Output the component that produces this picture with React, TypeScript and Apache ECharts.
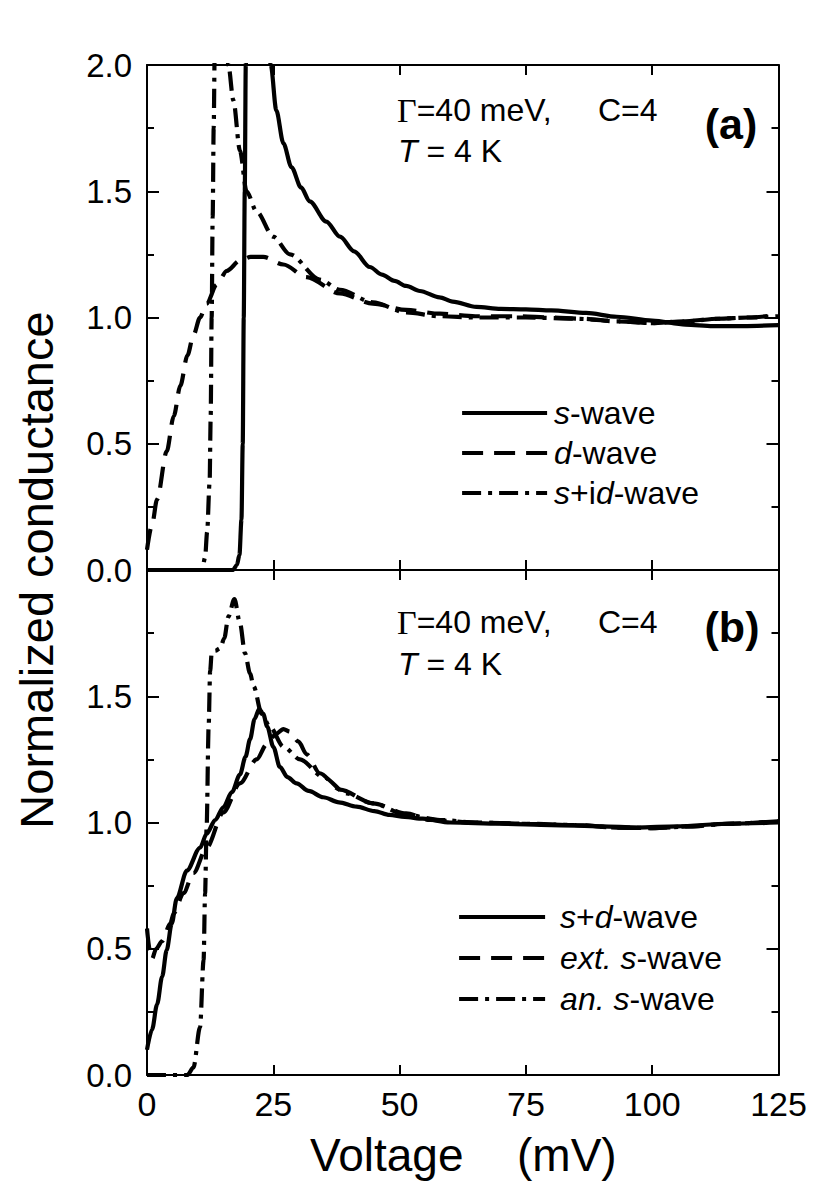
import React, { useEffect, useRef } from "react";
import * as echarts from "echarts";

const FONT = "'Liberation Sans', Arial, Helvetica, sans-serif";
const SERIF = "'Liberation Serif', 'Times New Roman', serif";

// ---------- panel (a) ----------
const sWaveV = [0, 17.0, 17.8, 18.3, 18.7, 18.95, 19.15, 19.35, 19.55, 20.5, 22.5, 24.5, 25.6, 27, 28.6, 30.5, 32.2, 35.5, 38.2, 41, 44.1, 46.5, 49, 51.3, 54, 57.9, 60.5, 65.2, 70, 75, 80, 86.9, 93, 100, 106.6, 112, 118, 125];
const sWaveG = [0, 0, 0.02, 0.06, 0.2, 0.5, 1.0, 1.5, 2.0, 3.5, 3.0, 2.0, 1.82, 1.69, 1.595, 1.515, 1.46, 1.38, 1.32, 1.262, 1.20, 1.17, 1.145, 1.125, 1.105, 1.08, 1.063, 1.042, 1.034, 1.032, 1.028, 1.018, 1.003, 0.988, 0.972, 0.966, 0.966, 0.97];

const dWaveV = [0, 1, 2, 3.9, 5.3, 6.6, 8, 9.2, 10.5, 11.8, 13.8, 15.8, 18.4, 20.5, 23, 27, 31.6, 38.2, 44.7, 51.3, 58, 65, 73.7, 80, 86, 93.5, 100, 106, 113, 119, 125];
const dWaveG = [0.08, 0.18, 0.28, 0.47, 0.61, 0.73, 0.85, 0.93, 1.0, 1.055, 1.13, 1.185, 1.225, 1.24, 1.24, 1.21, 1.16, 1.095, 1.055, 1.03, 1.015, 1.005, 1.005, 1.0, 0.995, 0.985, 0.978, 0.985, 0.995, 1.0, 1.01];

const sidWaveV = [0, 10.9, 11.5, 11.9, 12.4, 12.6, 12.8, 13.0, 13.2, 13.4, 14.5, 16.1, 17.1, 18.4, 19.7, 21.7, 25, 28.3, 34.2, 38.2, 44.7, 51.3, 58, 65, 75, 85, 93, 100, 107, 113, 119, 125];
const sidWaveG = [0, 0, 0.05, 0.15, 0.35, 0.6, 1.0, 1.4, 1.75, 2.05, 3.0, 2.0, 1.86, 1.66, 1.50, 1.42, 1.32, 1.25, 1.15, 1.11, 1.06, 1.02, 1.005, 1.0, 1.0, 0.995, 0.985, 0.978, 0.985, 0.995, 1.0, 1.005];

// ---------- panel (b) ----------
const sdWaveV = [0, 1, 2, 3, 3.9, 4.9, 5.9, 7.9, 10.5, 11.8, 13.5, 15.1, 16.8, 18.4, 19.5, 20.4, 21.3, 22.2, 23.0, 23.8, 25, 26.3, 27.8, 29.6, 32, 34.9, 38, 41.5, 45, 48, 51, 54.6, 60, 70, 80, 90, 97, 105, 115, 125];
const sdWaveG = [0.1, 0.18, 0.28, 0.39, 0.495, 0.60, 0.70, 0.81, 0.90, 0.955, 1.01, 1.06, 1.12, 1.19, 1.26, 1.33, 1.41, 1.45, 1.43, 1.38, 1.30, 1.22, 1.18, 1.155, 1.125, 1.10, 1.08, 1.063, 1.045, 1.03, 1.022, 1.015, 1.0, 0.995, 0.99, 0.985, 0.98, 0.985, 0.995, 1.0];

const extWaveV = [0, 0.5, 1.0, 1.8, 3.0, 4.6, 5.3, 7.2, 9.2, 11.8, 15.1, 18.4, 21.7, 23.7, 25.5, 27, 28.3, 30, 31.6, 34.2, 38.2, 44.7, 51.3, 56, 65, 75, 85, 93, 100, 108, 115, 125];
const extWaveG = [0.58, 0.5, 0.46, 0.5, 0.53, 0.6, 0.64, 0.72, 0.80, 0.90, 1.04, 1.155, 1.25, 1.31, 1.35, 1.37, 1.36, 1.32, 1.27, 1.195, 1.13, 1.076, 1.036, 1.01, 1.0, 0.995, 0.99, 0.98, 0.978, 0.985, 0.995, 1.005];

const anWaveV = [0, 8, 9.2, 10.5, 11.2, 11.5, 11.8, 12.2, 12.5, 12.8, 13.5, 14.5, 15.3, 16.1, 17.3, 18.4, 19.4, 20.4, 21.1, 22.7, 24.3, 27, 30.3, 34.9, 39.5, 44.7, 51.3, 58, 65, 75, 85, 93, 100, 108, 115, 125];
const anWaveG = [0, 0, 0.03, 0.19, 0.455, 0.72, 0.98, 1.38, 1.60, 1.67, 1.68, 1.69, 1.73, 1.815, 1.885, 1.79, 1.67, 1.59, 1.54, 1.43, 1.38, 1.30, 1.25, 1.18, 1.115, 1.076, 1.03, 1.01, 1.0, 0.995, 0.99, 0.98, 0.978, 0.985, 0.995, 1.005];

const legendA = ["s-wave", "d-wave", "s+id-wave"];
const legendB = ["s+d-wave", "ext. s-wave", "an. s-wave"];
const legendRich: Record<string, string> = {
  "s-wave": "{p|}{i|s}{n|-wave}",
  "d-wave": "{p|}{i|d}{n|-wave}",
  "s+id-wave": "{p|}{i|s}{n|+i}{i|d}{n|-wave}",
  "s+d-wave": "{q|}{i|s}{n|+}{i|d}{n|-wave}",
  "ext. s-wave": "{q|}{i|ext. s}{n|-wave}",
  "an. s-wave": "{q|}{i|an. s}{n|-wave}",
};

const zip = (xs: number[], ys: number[]) => xs.map((x, i) => [x, ys[i]]);

const SOLID: any = "solid";
const DASH = [21, 11];
const DASHDOT = [19, 7, 4, 7];
const LW = 4.2;

function xAxisCfg(gridIndex: number, position: string, showLabels: boolean) {
  return {
    type: "value",
    gridIndex,
    position,
    min: 0,
    max: 125,
    interval: 25,
    axisLine: { show: true, onZero: false, lineStyle: { color: "#000", width: 2 } },
    axisTick: { show: true, inside: true, length: 10, lineStyle: { color: "#000", width: 2 } },
    minorTick: { show: false },
    axisLabel: { show: showLabels, color: "#000", fontSize: 34, fontFamily: FONT, margin: 12 },
    splitLine: { show: false },
    minorSplitLine: { show: false },
  };
}

function yAxisCfg(gridIndex: number, position: string, showLabels: boolean, hideTop: boolean) {
  return {
    type: "value",
    gridIndex,
    position,
    min: 0,
    max: 2,
    interval: 0.5,
    axisLine: { show: true, onZero: false, lineStyle: { color: "#000", width: 2 } },
    axisTick: { show: true, inside: true, length: 12, lineStyle: { color: "#000", width: 2 } },
    minorTick: { show: true, splitNumber: 2, length: 7, lineStyle: { color: "#000", width: 2 } },
    axisLabel: {
      show: showLabels,
      color: "#000",
      fontSize: 33,
      fontFamily: FONT,
      margin: 15,
      formatter: (v: number) => (hideTop && v === 2 ? "" : v.toFixed(1)),
    },
    splitLine: { show: false },
    minorSplitLine: { show: false },
  };
}

function lineSeries(name: string, xs: number[], ys: number[], axis: number, type: any) {
  return {
    name,
    type: "line",
    xAxisIndex: axis,
    yAxisIndex: axis,
    data: zip(xs, ys),
    symbol: "none",
    showSymbol: false,
    smooth: 0.3,
    smoothMonotone: "x",
    clip: true,
    silent: true,
    lineStyle: { color: "#000", width: LW, type, cap: "butt" },
    itemStyle: { color: "#000" },
  };
}

const richStyles = {
  i: { fontStyle: "italic", fontSize: 32, fontFamily: FONT, color: "#000" },
  n: { fontSize: 32, fontFamily: FONT, color: "#000" },
  p: { width: 2 },
  q: { width: 10 },
};

function txt(x: number, y: number, text: string, extra: any = {}, rich: any = undefined) {
  return {
    type: "text",
    x,
    y,
    silent: true,
    style: {
      text,
      fill: "#000",
      fontSize: 32,
      fontFamily: FONT,
      textAlign: "left",
      align: "left",
      textVerticalAlign: "middle",
      verticalAlign: "middle",
      rich,
      ...extra,
    },
  };
}

const gRich = { g: { fontFamily: SERIF, fontSize: 34, fill: "#000" } };
const tRich = { t: { fontFamily: FONT, fontStyle: "italic", fontSize: 32, fill: "#000" } };

const legendBase = {
  orient: "vertical",
  itemHeight: 20,
  padding: 0,
  selectedMode: false,
  formatter: (name: string) => legendRich[name],
  itemStyle: { color: "rgba(0,0,0,0)", opacity: 0, borderWidth: 0 },
  lineStyle: { width: LW, color: "#000" },
  textStyle: { fontSize: 32, fontFamily: FONT, color: "#000", rich: richStyles },
};

export default function App() {
  const ref = useRef<HTMLDivElement>(null);
  useEffect(() => {
    if (!ref.current) return;
    const chart = echarts.init(ref.current, null, { renderer: "svg" });
    const option: any = {
      animation: false,
      backgroundColor: "#fff",
      grid: [
        { left: 147, top: 65, width: 631.5, height: 505, containLabel: false, outerBoundsMode: "none" },
        { left: 147, top: 570, width: 631.5, height: 505, containLabel: false, outerBoundsMode: "none" },
      ],
      xAxis: [
        xAxisCfg(0, "bottom", false),
        xAxisCfg(0, "top", false),
        xAxisCfg(1, "bottom", true),
        xAxisCfg(1, "top", false),
      ],
      yAxis: [
        yAxisCfg(0, "left", true, false),
        yAxisCfg(0, "right", false, false),
        yAxisCfg(1, "left", true, true),
        yAxisCfg(1, "right", false, false),
      ],
      legend: [
        { ...legendBase, data: legendA, left: 460, top: 397, itemWidth: 85, itemGap: 8 },
        { ...legendBase, data: legendB, left: 457, top: 901, itemWidth: 86, itemGap: 9 },
      ],
      graphic: [
        txt(397, 110, "{g|Γ}=40 meV,", {}, gRich),
        txt(598, 110, "C=4"),
        txt(398, 151, "{t|T} = 4 K", {}, tRich),
        txt(731, 124, "(a)", { fontSize: 43, fontWeight: "bold", textAlign: "center", align: "center" }),
        txt(397, 622, "{g|Γ}=40 meV,", {}, gRich),
        txt(598, 622, "C=4"),
        txt(398, 664, "{t|T} = 4 K", {}, tRich),
        txt(732, 627, "(b)", { fontSize: 43, fontWeight: "bold", textAlign: "center", align: "center" }),
        txt(310, 1155, "Voltage", { fontSize: 46 }),
        txt(517, 1155, "(mV)", { fontSize: 46 }),
        {
          type: "text",
          x: 36,
          y: 570,
          rotation: Math.PI / 2,
          silent: true,
          style: {
            text: "Normalized conductance",
            fill: "#000",
            fontSize: 47,
            fontFamily: FONT,
            textAlign: "center",
            align: "center",
            textVerticalAlign: "middle",
            verticalAlign: "middle",
          },
        },
      ],
      series: [
        lineSeries("s-wave", sWaveV, sWaveG, 0, SOLID),
        lineSeries("d-wave", dWaveV, dWaveG, 0, DASH),
        lineSeries("s+id-wave", sidWaveV, sidWaveG, 0, DASHDOT),
        lineSeries("s+d-wave", sdWaveV, sdWaveG, 2, SOLID),
        lineSeries("ext. s-wave", extWaveV, extWaveG, 2, DASH),
        lineSeries("an. s-wave", anWaveV, anWaveG, 2, DASHDOT),
      ],
    };
    chart.setOption(option);
    return () => chart.dispose();
  }, []);
  return (
    <div
      ref={ref}
      style={{ position: "absolute", left: 0, top: 0, width: 830, height: 1196, background: "#fff" }}
    />
  );
}
